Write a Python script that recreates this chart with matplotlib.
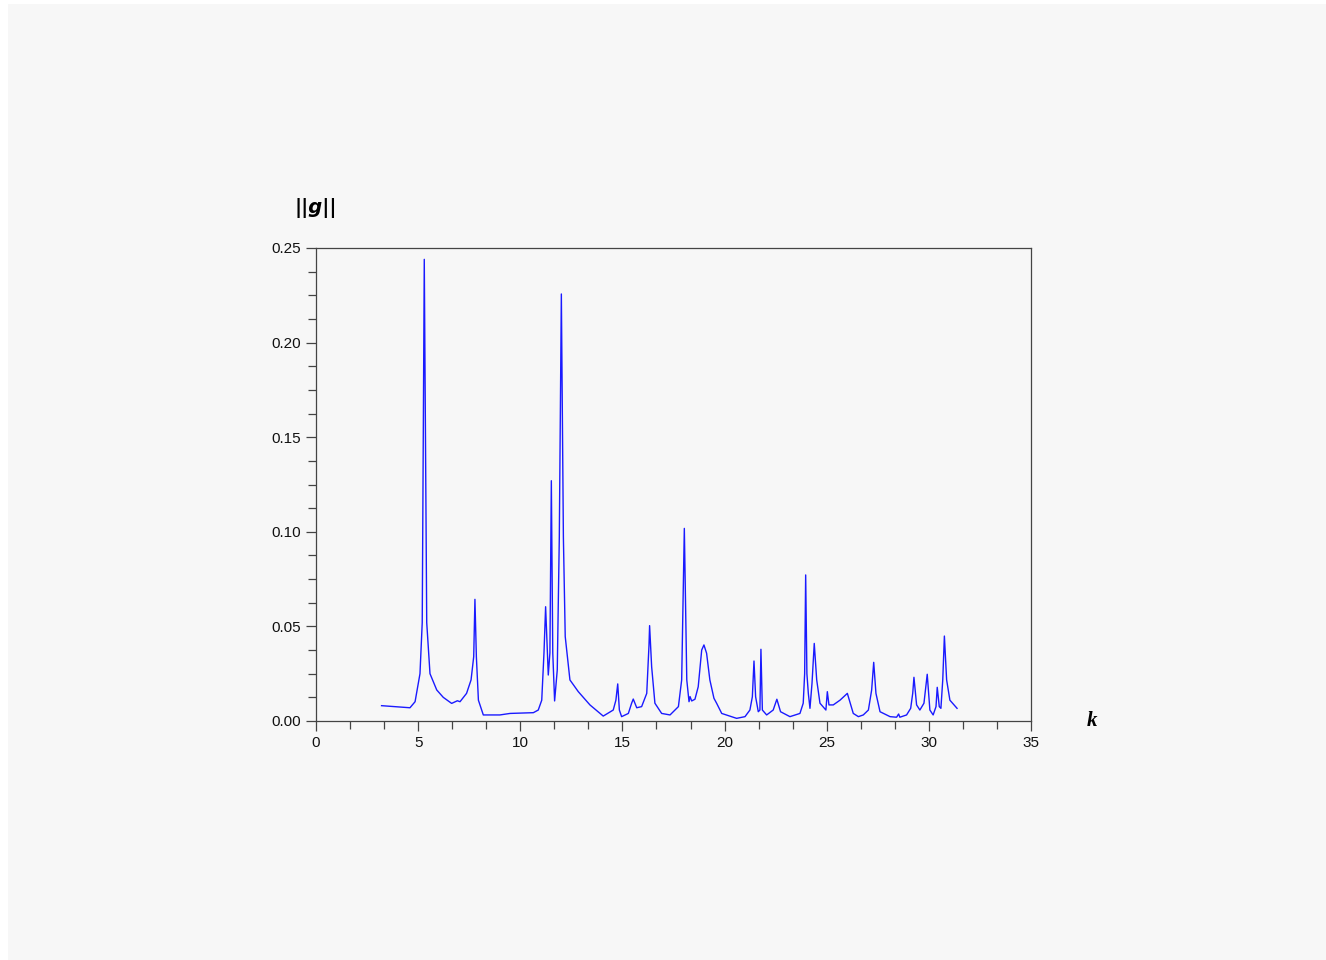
import matplotlib
matplotlib.use("Agg")
import matplotlib.pyplot as plt
from matplotlib.patches import Rectangle
from matplotlib.ticker import MultipleLocator, FormatStrFormatter

# spectrum, point by point
k_vals = [3.21, 4.60, 4.85, 5.09, 5.20, 5.30, 5.42, 5.58, 5.91, 6.23, 6.64, 6.92, 7.05,
          7.37, 7.59, 7.72, 7.78, 7.85, 7.95, 8.19, 9.00, 9.50, 10.64, 10.88, 11.05,
          11.16, 11.24, 11.37, 11.45, 11.52, 11.59, 11.68, 11.81, 11.91, 12.01, 12.11,
          12.20, 12.43, 12.84, 13.41, 14.06, 14.55, 14.68, 14.77, 14.85, 14.96, 15.29,
          15.45, 15.53, 15.70, 15.94, 16.19, 16.30, 16.33, 16.43, 16.59, 16.92, 17.33,
          17.74, 17.90, 18.03, 18.15, 18.26, 18.31, 18.39, 18.55, 18.71, 18.88, 18.99,
          19.12, 19.28, 19.48, 19.61, 19.86, 20.59, 21.00, 21.24, 21.36, 21.44, 21.52,
          21.65, 21.73, 21.78, 21.85, 22.06, 22.38, 22.56, 22.74, 23.20, 23.69, 23.85,
          23.92, 23.97, 24.03, 24.10, 24.18, 24.28, 24.39, 24.51, 24.67, 24.96, 25.03,
          25.11, 25.32, 25.65, 26.01, 26.11, 26.30, 26.55, 26.79, 27.04, 27.20, 27.30,
          27.41, 27.61, 28.10, 28.42, 28.52, 28.58, 28.91, 29.11, 29.21, 29.27, 29.40,
          29.56, 29.76, 29.92, 30.05, 30.21, 30.35, 30.41, 30.51, 30.59, 30.68, 30.76,
          30.87, 31.03, 31.38]
g_vals = [0.0081, 0.0070, 0.0102, 0.0250, 0.0520, 0.2440, 0.0520, 0.0250, 0.0164,
          0.0125, 0.0093, 0.0107, 0.0102, 0.0146, 0.0217, 0.0340, 0.0643, 0.0340,
          0.0110, 0.0032, 0.0032, 0.0040, 0.0044, 0.0058, 0.0110, 0.0360, 0.0604,
          0.0243, 0.0360, 0.1270, 0.0360, 0.0106, 0.0270, 0.0970, 0.2257, 0.0970,
          0.0446, 0.0217, 0.0155, 0.0085, 0.0026, 0.0058, 0.0110, 0.0196, 0.0058,
          0.0023, 0.0040, 0.0094, 0.0116, 0.0070, 0.0076, 0.0146, 0.0400, 0.0504,
          0.0287, 0.0094, 0.0040, 0.0032, 0.0076, 0.0217, 0.1018, 0.0217, 0.0102,
          0.0129, 0.0106, 0.0115, 0.0181, 0.0375, 0.0402, 0.0358, 0.0217, 0.0120,
          0.0094, 0.0040, 0.0014, 0.0023, 0.0058, 0.0128, 0.0317, 0.0128, 0.0049,
          0.0058, 0.0379, 0.0058, 0.0032, 0.0058, 0.0115, 0.0049, 0.0023, 0.0040,
          0.0094, 0.0250, 0.0772, 0.0250, 0.0146, 0.0067, 0.0199, 0.0410, 0.0217,
          0.0094, 0.0058, 0.0155, 0.0085, 0.0085, 0.0110, 0.0146, 0.0110, 0.0040,
          0.0023, 0.0032, 0.0058, 0.0164, 0.0310, 0.0146, 0.0049, 0.0023, 0.0020,
          0.0037, 0.0020, 0.0032, 0.0067, 0.0146, 0.0231, 0.0085, 0.0058, 0.0094,
          0.0247, 0.0058, 0.0032, 0.0076, 0.0178, 0.0076, 0.0067, 0.0217, 0.0449,
          0.0217, 0.0110, 0.0067]

bg = "#f7f7f7"
axcol = "#444444"
plt.rcParams['font.family'] = ['Liberation Sans', 'DejaVu Sans']

fig = plt.figure(figsize=(13.26, 9.6), dpi=100, facecolor="white")
# grey page area (small white margin at left and top like the screenshot)
fig.patches.append(Rectangle((8 / 1326, 0), 1, 1 - 4 / 960, transform=fig.transFigure,
                             facecolor=bg, edgecolor="none", zorder=-10))

ax = fig.add_axes([316 / 1326, 1 - 721 / 960, 715 / 1326, 473 / 960])
ax.set_facecolor(bg)
ax.plot(k_vals, g_vals, color="#1a1aff", lw=1.0)

ax.set_xlim(0, 35)
ax.set_ylim(0, 0.25)
ax.xaxis.set_major_locator(MultipleLocator(5))
ax.xaxis.set_minor_locator(MultipleLocator(5 / 3))
ax.yaxis.set_major_locator(MultipleLocator(0.05))
ax.yaxis.set_minor_locator(MultipleLocator(0.0125))
ax.yaxis.set_major_formatter(FormatStrFormatter('%.2f'))

for s in ax.spines.values():
    s.set_color(axcol)
    s.set_linewidth(0.9)
ax.tick_params(which="major", length=7, width=0.9, color=axcol, labelsize=11,
               labelcolor="#111111", direction="out")
ax.tick_params(which="minor", length=6, width=0.9, color=axcol, direction="out")
ax.tick_params(axis="x", pad=4)

# axis names
ax.text(0.0, 1.085, "||g||", transform=ax.transAxes, ha="center", va="center",
        fontsize=14, fontweight="bold", style="oblique", family="DejaVu Sans")
ax.text(1.085, 0.0, "k", transform=ax.transAxes, ha="center", va="center",
        fontsize=15, fontweight="bold", style="italic", family="Liberation Serif")

fig.savefig("out.png", dpi=100, facecolor=fig.get_facecolor())
